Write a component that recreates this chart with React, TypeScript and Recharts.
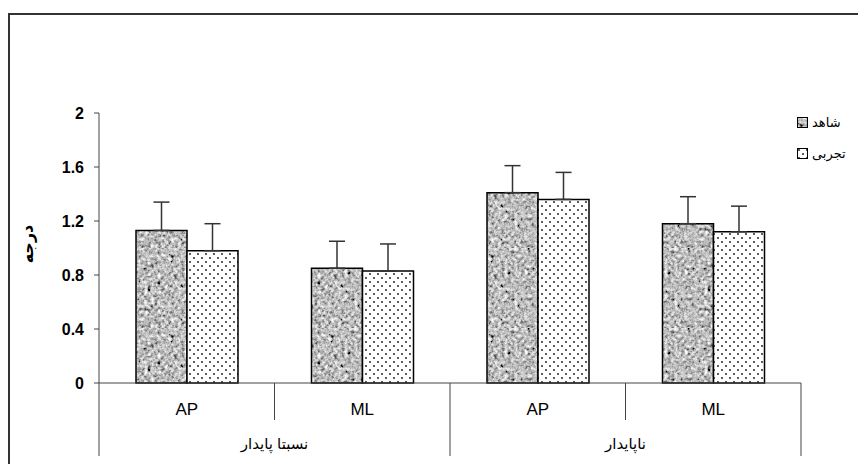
import {Bar, BarChart, ErrorBar, Legend, XAxis, YAxis} from "recharts";

const subCategories = ["AP", "ML", "AP", "ML"];
const groupLabels = ["نسبتا پایدار", "نسبتا پایدار", "ناپایدار", "ناپایدار"];
const controlValues = [1.13, 0.85, 1.41, 1.18];
const controlErrors = [0.21, 0.2, 0.2, 0.2];
const experimentValues = [0.98, 0.83, 1.36, 1.12];
const experimentErrors = [0.2, 0.2, 0.2, 0.19];
const seriesNames = ["شاهد", "تجربی"];
const yTicks = [0, 0.4, 0.8, 1.2, 1.6, 2];

const CHART_W = 858;
const CHART_H = 456;
const MARGIN = {top: 105, right: 65, left: 0, bottom: 0};
const Y_AXIS_W = 91;
const X_AXIS_H = 81;
const FONT = "'Liberation Sans', Arial, 'DejaVu Sans', sans-serif";

const data = subCategories.map((sub, i) => ({
    sub,
    group: groupLabels[i],
    control: controlValues[i],
    controlErr: [0, controlErrors[i]],
    experiment: experimentValues[i],
    experimentErr: [0, experimentErrors[i]],
}));

const PLOT_W = CHART_W - MARGIN.left - MARGIN.right - Y_AXIS_W;

function MultiTick(props: any) {
    const {x, y, payload, index} = props;
    const half = payload?.offset || PLOT_W / subCategories.length / 2;
    const left = x - half;
    const right = x + half;
    const isGroupStart = index % 2 === 0;
    const isLast = index === subCategories.length - 1;
    return (
        <g>
            <line x1={left} x2={left} y1={y} y2={y + (isGroupStart ? 73 : 37)} stroke="#444" strokeWidth={1}/>
            {isLast && <line x1={right} x2={right} y1={y} y2={y + 73} stroke="#444" strokeWidth={1}/>}
            <text x={x} y={y + 32} textAnchor="middle" fontFamily={FONT} fontSize={17} fill="#000">
                {payload.value}
            </text>
            {isGroupStart && (
                <text x={right} y={y + 66} textAnchor="middle" fontFamily={FONT} fontSize={15} fill="#000">
                    {groupLabels[index]}
                </text>
            )}
        </g>
    );
}

function YTitle(props: any) {
    const vb = props.viewBox || {x: 0, y: MARGIN.top, height: CHART_H - MARGIN.top - X_AXIS_H};
    const cx = vb.x + 19;
    const cy = vb.y + vb.height / 2 - 4;
    return (
        <text
            x={cx}
            y={cy}
            transform={`rotate(-90 ${cx} ${cy})`}
            textAnchor="middle"
            dominantBaseline="central"
            fontFamily={FONT}
            fontSize={16}
            fontWeight="bold"
            fill="#000"
        >
            درجه
        </text>
    );
}

function LegendBox({payload}: any) {
    const items = [...(payload || [])].sort(
        (a: any, b: any) => seriesNames.indexOf(a.value) - seriesNames.indexOf(b.value)
    );
    return (
        <div style={{fontFamily: FONT, fontSize: 13, color: "#000"}}>
            {items.map((entry: any) => (
                <div key={entry.value} style={{display: "flex", alignItems: "center", height: 31}}>
                    <svg width={11} height={11} style={{marginRight: 4}}>
                        <rect x={0.5} y={0.5} width={10} height={10} fill={entry.color} stroke="#000" strokeWidth={1}/>
                    </svg>
                    <span>{entry.value}</span>
                </div>
            ))}
        </div>
    );
}

export default function App() {
    return (
        <div style={{position: "relative", width: CHART_W, height: CHART_H}}>
            <div
                style={{
                    position: "absolute",
                    left: 0,
                    top: 5,
                    width: CHART_W,
                    height: CHART_H - 5,
                    boxSizing: "border-box",
                    borderLeft: "2px solid #333",
                    borderTop: "2px solid #333",
                    borderRight: "2px solid #333",
                    pointerEvents: "none",
                }}
            />
            <BarChart width={CHART_W} height={CHART_H} data={data} margin={MARGIN} barGap={0} barSize={51}>
                <defs>
                    <filter id="graniteNoise" x="0" y="0" width="100%" height="100%">
                        <feTurbulence type="fractalNoise" baseFrequency="0.3" numOctaves={3} seed={7}/>
                        <feColorMatrix
                            type="matrix"
                            values="0.33 0.33 0.33 0 0  0.33 0.33 0.33 0 0  0.33 0.33 0.33 0 0  0 0 0 0 1"
                        />
                        <feComponentTransfer>
                            <feFuncR type="linear" slope={2.6} intercept={-0.78}/>
                            <feFuncG type="linear" slope={2.6} intercept={-0.78}/>
                            <feFuncB type="linear" slope={2.6} intercept={-0.78}/>
                        </feComponentTransfer>
                    </filter>
                    <pattern id="granite" patternUnits="userSpaceOnUse" width={80} height={80}>
                        <rect width={80} height={80} fill="#999" filter="url(#graniteNoise)"/>
                    </pattern>
                    <pattern id="dots" patternUnits="userSpaceOnUse" width={8} height={8}>
                        <rect width={8} height={8} fill="#fff"/>
                        <circle cx={2} cy={2} r={0.9} fill="#111"/>
                        <circle cx={6} cy={6} r={0.9} fill="#111"/>
                    </pattern>
                </defs>
                <XAxis
                    dataKey="sub"
                    height={X_AXIS_H}
                    interval={0}
                    tickLine={false}
                    tickSize={0}
                    tickMargin={0}
                    axisLine={{stroke: "#444"}}
                    tick={<MultiTick/>}
                />
                <YAxis
                    width={Y_AXIS_W}
                    domain={[0, 2]}
                    ticks={yTicks}
                    interval={0}
                    tickSize={5}
                    tickMargin={10}
                    axisLine={{stroke: "#444"}}
                    tickLine={{stroke: "#444"}}
                    tick={{fontFamily: FONT, fontSize: 16, fontWeight: "bold", fill: "#000"}}
                    label={<YTitle/>}
                />
                <Legend
                    layout="horizontal"
                    align="center"
                    verticalAlign="middle"
                    wrapperStyle={{left: 789, top: 99, width: 70, right: "auto"}}
                    content={<LegendBox/>}
                />
                <Bar dataKey="control" name={seriesNames[0]} fill="url(#granite)" stroke="#000" strokeWidth={1.5} isAnimationActive={false}>
                    <ErrorBar dataKey="controlErr" direction="y" width={8} stroke="#333" strokeWidth={1.5}/>
                </Bar>
                <Bar dataKey="experiment" name={seriesNames[1]} fill="url(#dots)" stroke="#000" strokeWidth={1.5} isAnimationActive={false}>
                    <ErrorBar dataKey="experimentErr" direction="y" width={8} stroke="#333" strokeWidth={1.5}/>
                </Bar>
            </BarChart>
        </div>
    );
}
